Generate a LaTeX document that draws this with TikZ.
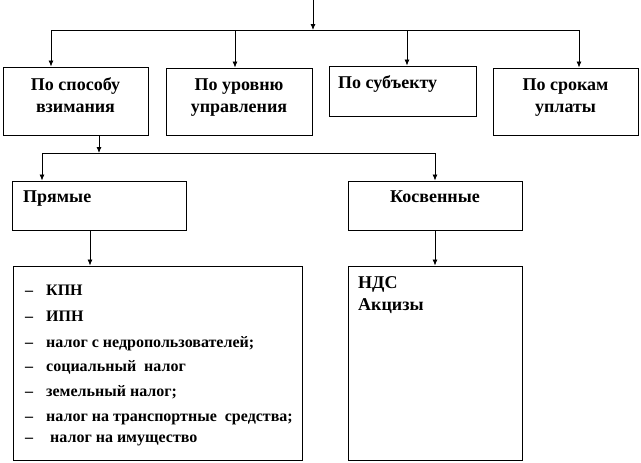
\documentclass[tikz,border=0pt]{standalone}
\usepackage{fontspec}
\setmainfont{Liberation Serif}
\usetikzlibrary{arrows.meta}
\begin{document}
\begin{tikzpicture}[x=1pt,y=-1pt,
  box/.style={draw,line width=0.9pt,rectangle,inner sep=0pt},
  ln/.style={line width=0.8pt},
  arr/.style={line width=0.8pt,-{Latex[length=6pt,width=5pt]}},
  ttl/.style={font=\fontsize{18}{21}\selectfont\bfseries,inner sep=0pt,anchor=base},
  itm/.style={font=\fontsize{16}{19}\selectfont\bfseries,inner sep=0pt,anchor=base west}]
\useasboundingbox (0,0) rectangle (641,463);
% boxes
\node[box,minimum width=145pt,minimum height=68pt] (b1) at (75.5,101) {};
\node[box,minimum width=146pt,minimum height=67pt] (b2) at (239,101.5) {};
\node[box,minimum width=147pt,minimum height=50pt] (b3) at (402.5,91) {};
\node[box,minimum width=145pt,minimum height=67pt] (b4) at (565.5,101.5) {};
\node[box,minimum width=174pt,minimum height=49pt] (pr) at (99,205.5) {};
\node[box,minimum width=174pt,minimum height=49pt] (kos) at (435,205.5) {};
\node[box,minimum width=289pt,minimum height=194pt] (lb) at (157.5,363) {};
\node[box,minimum width=174pt,minimum height=194pt] (rb) at (435,363) {};
% titles
\node[ttl] (t1a) at (75.5,90) {По способу};
\node[ttl] (t1b) at (75.5,112) {взимания};
\node[ttl] (t2a) at (239,90) {По уровню};
\node[ttl] (t2b) at (239,112) {управления};
\node[ttl,anchor=base west] (t3) at (338,88) {По субъекту};
\node[ttl] (t4a) at (565.5,90) {По срокам};
\node[ttl] (t4b) at (565.5,112) {уплаты};
\node[ttl,anchor=base west] (tp) at (23,202) {Прямые};
\node[ttl] (tk) at (435,202) {Косвенные};
% lists
\node[itm] (l1) at (25,295) {\makebox[21pt][l]{–}КПН};
\node[itm] (l2) at (25,321) {\makebox[21pt][l]{–}ИПН};
\node[itm] (l3) at (25,347) {\makebox[21pt][l]{–}налог с недропользователей;};
\node[itm] (l4) at (25,371) {\makebox[21pt][l]{–}социальный\ \ налог};
\node[itm] (l5) at (25,396) {\makebox[21pt][l]{–}земельный налог;};
\node[itm] (l6) at (25,421) {\makebox[21pt][l]{–}налог на транспортные\ \ средства;};
\node[itm] (l7) at (25,442) {\makebox[25pt][l]{–}налог на имущество};
\node[itm,font=\fontsize{18}{21}\selectfont\bfseries] (r1) at (358,288) {НДС};
\node[itm,font=\fontsize{18}{21}\selectfont\bfseries] (r2) at (358,310) {Акцизы};
% connectors
\coordinate (in) at (313,0);
\coordinate (busA) at (313,30);
\coordinate (busAL) at (51,30);
\coordinate (busA2) at (235,30);
\coordinate (busA3) at (407,30);
\coordinate (busAR) at (579,30);
\draw[arr] (in) -- (busA);
\draw[ln] (busAL) -- (busAR);
\draw[arr] (busAL) -- (busAL |- b1.north);
\draw[arr] (busA2) -- (busA2 |- b2.north);
\draw[arr] (busA3) -- (busA3 |- b3.north);
\draw[arr] (busAR) -- (busAR |- b4.north);
\coordinate (busB) at (99,153);
\coordinate (busBL) at (42,153);
\coordinate (busBR) at (435,153);
\draw[arr] (b1.south -| busB) -- (busB);
\draw[ln] (busBL) -- (busBR);
\draw[arr] (busBL) -- (busBL |- pr.north);
\draw[arr] (busBR) -- (kos.north);
\coordinate (prx) at (90,230);
\draw[arr] (pr.south -| prx) -- (lb.north -| prx);
\draw[arr] (kos.south) -- (rb.north);
\end{tikzpicture}
\end{document}
